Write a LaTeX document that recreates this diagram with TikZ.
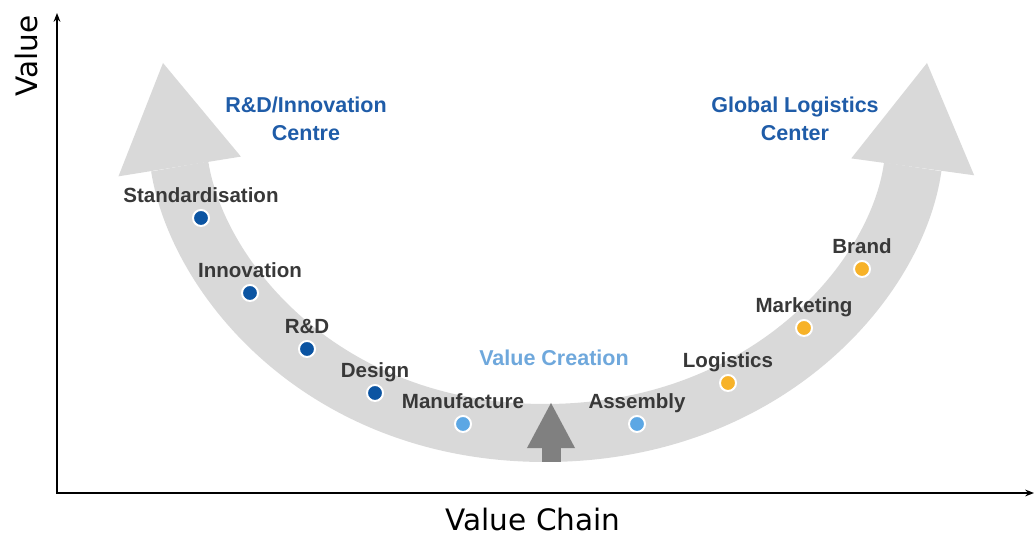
\documentclass[tikz,border=0pt]{standalone}
\usepackage{fontspec}
\setmainfont{Liberation Sans}
\newfontfamily\axisfont{DejaVu Sans}
\usepackage{xcolor}
\definecolor{bandgray}{RGB}{217,217,217}
\definecolor{arrowgray}{RGB}{128,128,128}
\definecolor{labelgray}{RGB}{56,56,56}
\definecolor{darkblue}{RGB}{11,84,162}
\definecolor{lightblue}{RGB}{92,167,228}
\definecolor{myorange}{RGB}{247,178,40}
\definecolor{titleblue}{RGB}{31,92,168}
\definecolor{creationblue}{RGB}{111,168,220}
\usepackage{tikz}
\usetikzlibrary{arrows.meta}
\newcommand{\widthband}{1.45cm}
\newcommand{\sizestage}{0.4cm}
\tikzset{
    axis/.style={line width=1.4pt, >={Stealth[length=0.22cm, width=0.17cm]}, <->},
    band/.style={draw=bandgray, line width=\widthband, >={Triangle[length=2.62cm, width=3.1cm, line width=0pt]}, <->},
    rise/.style={draw=arrowgray, line width=0.475cm, >={Triangle[length=1.125cm, width=1.2cm, line width=0pt]}, ->},
    stagetext/.style={font=\bfseries\fontsize{14.6}{17}\selectfont, text=labelgray, inner sep=0pt, text depth=0pt, yshift=0.15cm},
    stage/.style={circle, draw=white, line width=1.4pt, minimum size=\sizestage, inner sep=0pt},
    rd/.style={stage, fill=darkblue},
    make/.style={stage, fill=lightblue},
    logi/.style={stage, fill=myorange},
    title/.style={font=\bfseries\fontsize{15.3}{19.9}\selectfont, text=titleblue, align=center},
    axislabel/.style={font=\axisfont\fontsize{21}{25}\selectfont, text=black}
}
\begin{document}
\begin{tikzpicture}[x=0.025cm, y=0.025cm]
    \useasboundingbox (0,0) rectangle (1035,536);

    \coordinate (ytop) at (57,523);
    \coordinate (origin) at (57,43);
    \coordinate (xend) at (1034,43);
    \draw[axis] (ytop) -- (origin) -- (xend);
    \node[axislabel, rotate=90] (valuelabel) at (26,480) {Value};
    \node[axislabel] (chainlabel) at (533,16) {Value Chain};

    \coordinate (lefttip) at (163,473);
    \coordinate (bottom) at (545,103);
    \coordinate (righttip) at (927,473);
    \draw[band] (lefttip) .. controls (198,256) and (325,103) .. (bottom)
        .. controls (765,103) and (897,255) .. (righttip);

    \coordinate (risebase) at (551,74);
    \coordinate (risetip) at (551,133);
    \draw[rise] (risebase) -- (risetip);

    \node[rd, label={[stagetext]above:Standardisation}] (standard) at (201,318) {};
    \node[rd, label={[stagetext]above:Innovation}] (innov) at (250,243) {};
    \node[rd, label={[stagetext]above:R\&D}] (rnd) at (307,187) {};
    \node[rd, label={[stagetext]above:Design}] (design) at (375,143) {};
    \node[make, label={[stagetext]above:Manufacture}] (manuf) at (463,112) {};
    \node[make, label={[stagetext]above:Assembly}] (assembly) at (637,112) {};
    \node[logi, label={[stagetext]above:Logistics}] (logist) at (728,153) {};
    \node[logi, label={[stagetext]above:Marketing}] (market) at (804,208) {};
    \node[logi, label={[stagetext]above:Brand}] (brand) at (862,267) {};

    \node[title] (rdcentre) at (306,417) {R\&D/Innovation\\Centre};
    \node[title] (logcenter) at (795,417) {Global Logistics\\Center};
    \node[title, text=creationblue] (creation) at (554,178) {Value Creation};
\end{tikzpicture}
\end{document}
